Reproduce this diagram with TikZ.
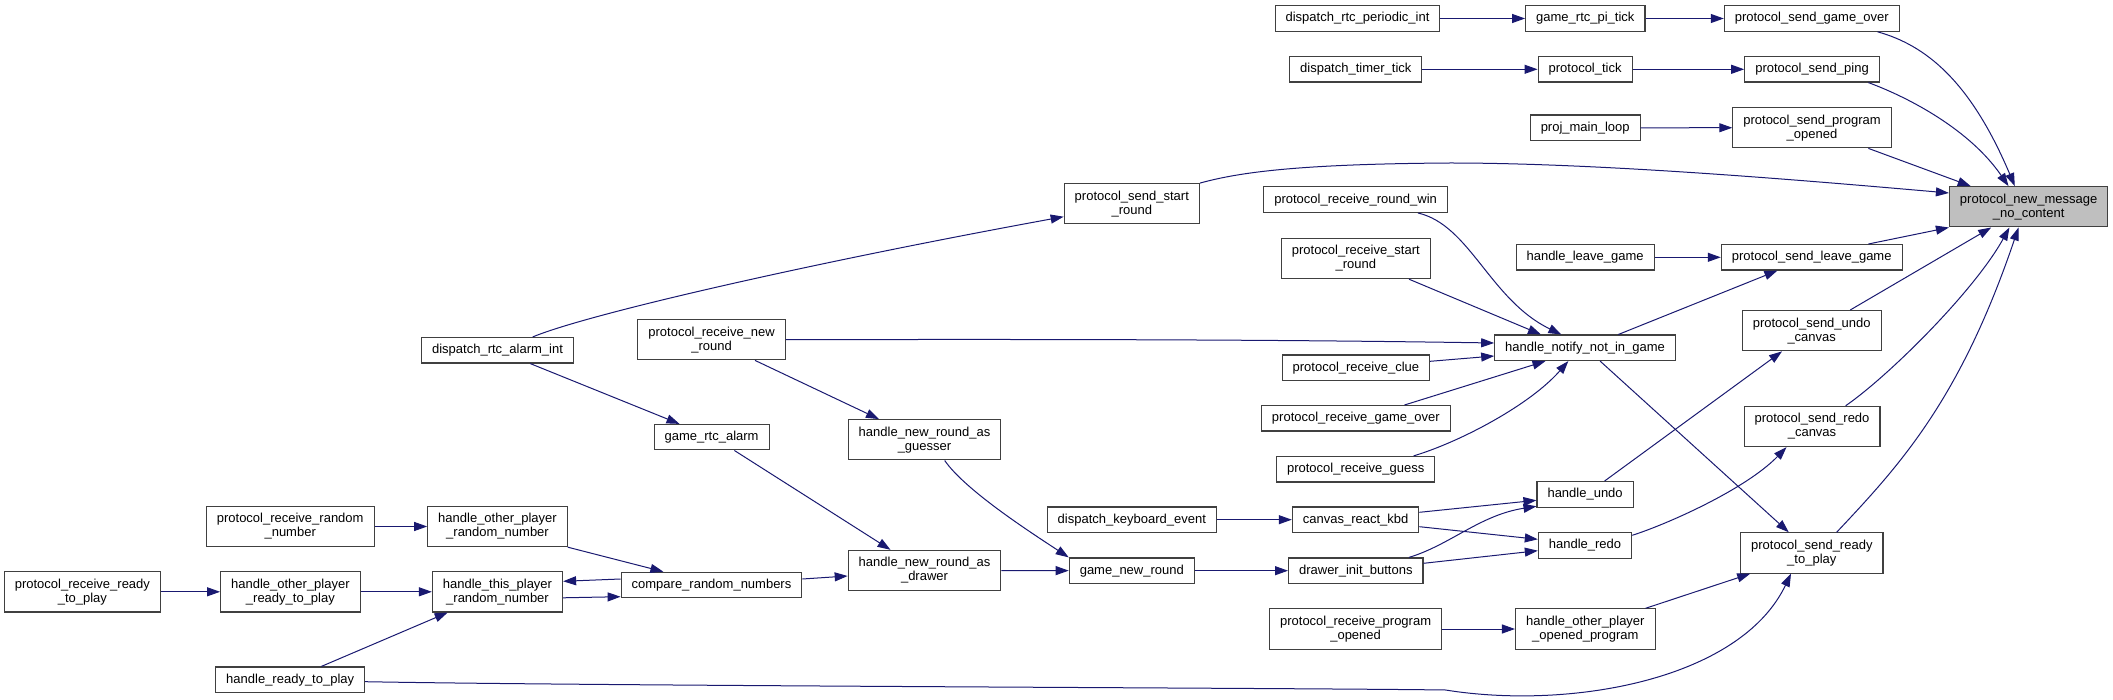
\documentclass[tikz,border=0pt]{standalone}
\usepackage{fontspec}
\setmainfont{Liberation Sans}
\usetikzlibrary{arrows.meta}
\definecolor{edgeblue}{HTML}{191970}
\definecolor{rootgray}{HTML}{BFBFBF}
\definecolor{boxline}{HTML}{404040}

\begin{document}
\begin{tikzpicture}[x=1pt, y=-1pt,
    every node/.style={font=\fontsize{13}{14}\selectfont},
    fn/.style={draw=boxline, line width=1.1pt, fill=white, inner xsep=10.5pt, inner ysep=2pt, minimum height=25.5pt, align=center},
    two/.style={minimum height=40.3pt},
    rootfn/.style={fn, two, fill=rootgray},
    call/.style={draw=edgeblue, line width=1pt, -{Triangle[length=13pt, width=9pt]}}
]
\useasboundingbox (0,0) rectangle (2113,700);

% functions
\node[fn] (rtcPeriodic) at (1357.5,18.5) {dispatch\_rtc\_periodic\_int};
\node[fn] (piTick) at (1585.3,18.5) {game\_rtc\_pi\_tick};
\node[fn] (sendGameOver) at (1811.8,18.5) {protocol\_send\_game\_over};
\node[fn] (timerTick) at (1355.8,69.3) {dispatch\_timer\_tick};
\node[fn] (protoTick) at (1585.1,69.3) {protocol\_tick};
\node[fn] (sendPing) at (1812,69.3) {protocol\_send\_ping};
\node[fn] (mainLoop) at (1585.2,127.8) {proj\_main\_loop};
\node[fn,two] (sendOpened) at (1812,127.7) {protocol\_send\_program\\\_opened};
\node[rootfn] (newMsg) at (2028.6,206.8) {protocol\_new\_message\\\_no\_content};
\node[fn,two] (sendStart) at (1131.8,203.8) {protocol\_send\_start\\\_round};
\node[fn] (recvWin) at (1355.6,199.7) {protocol\_receive\_round\_win};
\node[fn,two] (recvStart) at (1355.8,258.5) {protocol\_receive\_start\\\_round};
\node[fn] (leaveGame) at (1585.1,257.3) {handle\_leave\_game};
\node[fn] (sendLeave) at (1811.7,257.3) {protocol\_send\_leave\_game};
\node[fn,two] (recvNewRound) at (711.6,339.7) {protocol\_receive\_new\\\_round};
\node[fn] (rtcAlarmInt) at (497.5,350.3) {dispatch\_rtc\_alarm\_int};
\node[fn] (notInGame) at (1585.1,347.8) {handle\_notify\_not\_in\_game};
\node[fn,two] (sendUndo) at (1811.7,330.7) {protocol\_send\_undo\\\_canvas};
\node[fn] (recvClue) at (1355.9,367.8) {protocol\_receive\_clue};
\node[fn] (recvGameOver) at (1355.8,418.3) {protocol\_receive\_game\_over};
\node[fn,two] (sendRedo) at (1812,426.5) {protocol\_send\_redo\\\_canvas};
\node[fn] (rtcAlarm) at (711.6,437.2) {game\_rtc\_alarm};
\node[fn,two] (asGuesser) at (924.5,439.8) {handle\_new\_round\_as\\\_guesser};
\node[fn] (recvGuess) at (1355.7,469.2) {protocol\_receive\_guess};
\node[fn] (undo) at (1585.1,494.3) {handle\_undo};
\node[fn] (kbdEvent) at (1131.8,519.7) {dispatch\_keyboard\_event};
\node[fn] (reactKbd) at (1355.6,519.7) {canvas\_react\_kbd};
\node[fn,two] (recvRandom) at (290.2,526.5) {protocol\_receive\_random\\\_number};
\node[fn,two] (otherRandom) at (497.5,526.5) {handle\_other\_player\\\_random\_number};
\node[fn] (redo) at (1585,545.3) {handle\_redo};
\node[fn,two] (sendReady) at (1811.8,553) {protocol\_send\_ready\\\_to\_play};
\node[fn,two] (asDrawer) at (924.5,570.5) {handle\_new\_round\_as\\\_drawer};
\node[fn] (newRound) at (1131.8,570.7) {game\_new\_round};
\node[fn] (initButtons) at (1355.8,570.7) {drawer\_init\_buttons};
\node[fn,two] (recvReady) at (82.4,591.8) {protocol\_receive\_ready\\\_to\_play};
\node[fn,two] (otherReady) at (290.4,591.8) {handle\_other\_player\\\_ready\_to\_play};
\node[fn,two] (thisRandom) at (497.5,591.8) {handle\_this\_player\\\_random\_number};
\node[fn] (compare) at (711.5,585) {compare\_random\_numbers};
\node[fn,two] (recvOpened) at (1355.6,629) {protocol\_receive\_program\\\_opened};
\node[fn,two] (otherOpened) at (1585.3,629) {handle\_other\_player\\\_opened\_program};
\node[fn] (readyToPlay) at (290.2,679.7) {handle\_ready\_to\_play};

% calls
\draw[call] (rtcPeriodic) -- (piTick);
\draw[call] (piTick) -- (sendGameOver);
\draw[call] (timerTick) -- (protoTick);
\draw[call] (protoTick) -- (sendPing);
\draw[call] (mainLoop) -- (sendOpened);
\draw[call] ([xshift=65.7pt]sendGameOver.south) .. controls (1925,45) and (1970,80) .. ([xshift=-13.8pt]newMsg.north);
\draw[call] ([xshift=56.4pt]sendPing.south) .. controls (1910,98) and (1970,130) .. ([xshift=-20.1pt]newMsg.north);
\draw[call] ([xshift=56.4pt]sendOpened.south) -- ([xshift=-57.9pt]newMsg.north);
\draw[call] (sendStart.north east) .. controls (1240,172) and (1300,164) .. (1450,163) .. controls (1600,163) and (1800,180) .. ([yshift=13.8pt]newMsg.west);
\draw[call] ([xshift=35.1pt]rtcAlarmInt.north) .. controls (585,315) and (800,265) .. ([yshift=-12.9pt]sendStart.west);
\draw[call] (leaveGame) -- (sendLeave);
\draw[call] ([xshift=56.7pt]sendLeave.north) -- (newMsg.south west);
\draw[call] ([xshift=62.4pt]recvWin.south) .. controls (1470,225) and (1490,300) .. ([xshift=-23.7pt]notInGame.north);
\draw[call] ([xshift=53.2pt]recvStart.south) -- ([xshift=-44.1pt]notInGame.north);
\draw[call] (recvNewRound.east) .. controls (1100,339) and (1300,340) .. ([yshift=4.8pt]notInGame.west);
\draw[call] ([yshift=6.5pt]recvClue.east) -- ([yshift=-8.2pt]notInGame.west);
\draw[call] ([xshift=48.7pt]recvGameOver.north) -- ([xshift=-39.6pt]notInGame.south);
\draw[call] ([xshift=57.9pt]recvGuess.north) .. controls (1460,442) and (1530,405) .. ([xshift=-16.8pt]notInGame.south);
\draw[call] ([xshift=33.2pt]notInGame.north) -- ([xshift=-34.3pt]sendLeave.south);
\draw[call] ([xshift=15pt]notInGame.south) -- ([xshift=-23pt]sendReady.north);
\draw[call] ([xshift=19.5pt]undo.north) -- ([xshift=-29.7pt]sendUndo.south);
\draw[call] ([yshift=10pt]redo.east) .. controls (1665,525) and (1745,490) .. ([xshift=-25.5pt]sendRedo.south);
\draw[call] ([xshift=38.5pt]sendUndo.north) -- ([xshift=-37.4pt]newMsg.south);
\draw[call] ([xshift=33.6pt]sendRedo.north) .. controls (1890,375) and (1975,290) .. ([xshift=-19.2pt]newMsg.south);
\draw[call] ([xshift=24.8pt]sendReady.north) .. controls (1900,465) and (1960,400) .. ([xshift=-10.1pt]newMsg.south);
\draw[call] ([yshift=7.4pt]reactKbd.east) -- ([yshift=-6pt]undo.west);
\draw[call] ([yshift=-7pt]reactKbd.east) -- ([yshift=6pt]redo.west);
\draw[call] ([xshift=53.2pt]initButtons.north) .. controls (1450,545) and (1480,515) .. ([yshift=-12pt]undo.west);
\draw[call] ([yshift=7.4pt]initButtons.east) -- ([yshift=-5.4pt]redo.west);
\draw[call] (recvOpened) -- (otherOpened);
\draw[call] ([xshift=60.3pt]otherOpened.north) -- ([xshift=-61.6pt]sendReady.south);
\draw[call] ([yshift=-2pt]readyToPlay.east) .. controls (600,686) and (1300,688) .. (1445.5,690) .. controls (1570,710) and (1740,680) .. ([xshift=-20.8pt]sendReady.south);
\draw[call] (kbdEvent) -- (reactKbd);
\draw[call] (newRound) -- (initButtons);
\draw[call] (asDrawer) -- (newRound);
\draw[call] ([xshift=20.2pt]asGuesser.south) .. controls (965,490) and (1030,532) .. (newRound.north west);
\draw[call] ([xshift=43.4pt]recvNewRound.south) -- ([xshift=-45.5pt]asGuesser.north);
\draw[call] ([xshift=22.8pt]rtcAlarm.south) -- ([xshift=-34pt]asDrawer.north);
\draw[call] ([yshift=6pt]compare.east) -- ([yshift=-5.5pt]asDrawer.west);
\draw[call] ([xshift=32.8pt]rtcAlarmInt.south) -- ([xshift=-32.1pt]rtcAlarm.north);
\draw[call] (recvRandom) -- (otherRandom);
\draw[call] (otherRandom.south east) -- ([xshift=-48.1pt]compare.north);
\draw[call] ([yshift=6pt]compare.west) -- ([yshift=10.5pt]thisRandom.east);
\draw[call] ([yshift=-6pt]thisRandom.east) -- ([yshift=-11.7pt]compare.west);
\draw[call] (recvReady) -- (otherReady);
\draw[call] (otherReady) -- (thisRandom);
\draw[call] ([xshift=31.2pt]readyToPlay.north) -- ([xshift=-49.8pt]thisRandom.south);

\end{tikzpicture}
\end{document}
